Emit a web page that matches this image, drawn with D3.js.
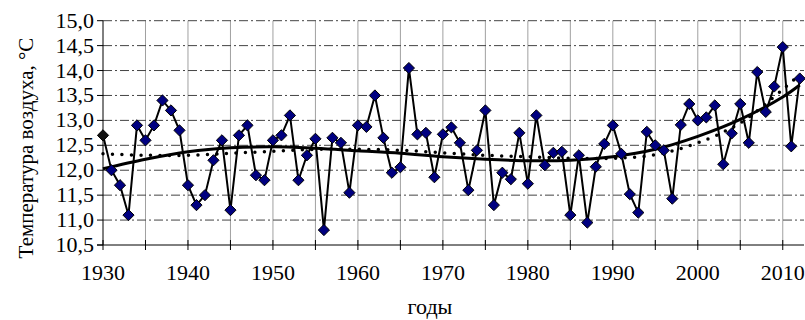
<!DOCTYPE html>
<html><head><meta charset="utf-8">
<script src="https://cdn.jsdelivr.net/npm/d3@7"></script>
</head><body style="margin:0"><svg id="c" width="805" height="320"></svg>
<script>
const years = d3.range(1930, 2013);
const temps = [
12.7,12.0,11.7,11.1,12.9,12.6,12.9,13.4,13.2,12.8,
11.7,11.3,11.5,12.2,12.6,11.2,12.7,12.9,11.9,11.8,
12.6,12.7,13.1,11.8,12.3,12.63,10.8,12.65,12.55,11.55,
12.9,12.87,13.5,12.65,11.95,12.06,14.05,12.72,12.75,11.86,
12.72,12.86,12.55,11.6,12.4,13.2,11.3,11.95,11.82,12.75,
11.73,13.1,12.1,12.35,12.37,11.1,12.3,10.95,12.07,12.53,
12.9,12.33,11.52,11.15,12.77,12.5,12.4,11.43,12.91,13.33,
13.0,13.06,13.3,12.12,12.74,13.33,12.55,13.97,13.17,13.68,
14.47,12.48,13.84];
const trendYears = [1930,1935,1940,1945,1950,1955,1960,1965,1970,1975,1980,1985,1990,1995,2000,2005,2010,2012];
const polyTrend  = [12.03,12.22,12.37,12.45,12.47,12.44,12.39,12.34,12.27,12.22,12.19,12.2,12.27,12.42,12.68,13.02,13.47,13.71];
const dotTrend   = [12.33,12.3,12.3,12.34,12.38,12.42,12.42,12.4,12.35,12.3,12.27,12.24,12.24,12.31,12.55,12.95,13.62,13.92];
const yTicks = [10.5,11.0,11.5,12.0,12.5,13.0,13.5,14.0,14.5,15.0];
const xLabelYears = [1930,1940,1950,1960,1970,1980,1990,2000,2010];
const xGridYears = [1930,1935,1940,1945,1950,1955,1960,1965,1970,1975,1980,1985,1990,1995,2000,2005,2010];

const FF = "Times New Roman";
const svg = d3.select("#c");
const x = d3.scaleLinear().domain([1930, 2012.5]).range([103, 804]);
const y = d3.scaleLinear().domain([10.5, 15]).range([245, 20.7]);
const fmt = v => v.toFixed(1).replace(".", ",");

svg.append("g").selectAll("line").data(xGridYears.slice(1)).join("line")
  .attr("x1", d => x(d)).attr("x2", d => x(d)).attr("y1", y(15)).attr("y2", y(10.5))
  .attr("stroke", "#a0a0a0").attr("stroke-width", 1);
svg.append("g").selectAll("line").data(yTicks.slice(1)).join("line")
  .attr("x1", x(1930)).attr("x2", 804).attr("y1", d => y(d)).attr("y2", d => y(d))
  .attr("stroke", "#444").attr("stroke-width", 1).attr("stroke-dasharray", "9,3,2,3");

const ya = svg.append("g");
ya.append("line").attr("x1", x(1930)).attr("x2", x(1930)).attr("y1", y(15)).attr("y2", y(10.5)).attr("stroke", "#000");
ya.selectAll("line.t").data(yTicks).join("line").attr("class", "t")
  .attr("x1", x(1930) - 6).attr("x2", x(1930)).attr("y1", d => y(d)).attr("y2", d => y(d)).attr("stroke", "#000");

const xa = svg.append("g");
xa.append("line").attr("x1", x(1930) - 6).attr("x2", 804).attr("y1", y(10.5)).attr("y2", y(10.5)).attr("stroke", "#000");
xa.selectAll("line.t").data(xGridYears).join("line").attr("class", "t")
  .attr("x1", d => x(d)).attr("x2", d => x(d)).attr("y1", y(10.5) - 5).attr("y2", y(10.5) + 5).attr("stroke", "#000");

const tline = d3.line().x((d, i) => x(trendYears[i])).y(d => y(d)).curve(d3.curveCatmullRom);
svg.append("path").attr("d", tline(dotTrend)).attr("fill", "none").attr("stroke", "#000")
  .attr("stroke-width", 3.5).attr("stroke-linecap", "round").attr("stroke-dasharray", "0,9.5");
svg.append("path").attr("d", tline(polyTrend)).attr("fill", "none").attr("stroke", "#000")
  .attr("stroke-width", 3);

const dline = d3.line().x((d, i) => x(years[i])).y(d => y(d));
svg.append("path").attr("d", dline(temps)).attr("fill", "none").attr("stroke", "#000").attr("stroke-width", 2);

const sym = d3.symbol().type(d3.symbolDiamond2).size(80);
svg.append("g").selectAll("path").data(temps).join("path")
  .attr("transform", (d, i) => `translate(${x(years[i])},${y(d)})`)
  .attr("d", sym).attr("fill", (d, i) => i === 0 ? "#111" : "#000080")
  .attr("stroke", "#000").attr("stroke-width", 1);

// all texts
const T = svg.append("g");
T.selectAll("text.yl").data(yTicks).join("text").attr("class", "yl")
  .attr("x", x(1930) - 9).attr("y", d => y(d) + 7).attr("text-anchor", "end")
  .attr("font-family", FF).attr("font-size", 22).text(fmt);
T.selectAll("text.xl").data(xLabelYears).join("text").attr("class", "xl")
  .attr("x", d => x(d)).attr("y", 280).attr("text-anchor", "middle")
  .attr("font-family", FF).attr("font-size", 22).text(d => d);
T.append("text").attr("transform", "translate(33,148) rotate(-90)")
  .attr("font-family", FF).attr("text-anchor", "middle").attr("font-size", 21)
  .text("Температура воздуха, °С");
T.append("text").attr("x", 430).attr("y", 314).attr("text-anchor", "middle")
  .attr("font-family", FF).attr("font-size", 22).text("годы");
</script></body></html>
